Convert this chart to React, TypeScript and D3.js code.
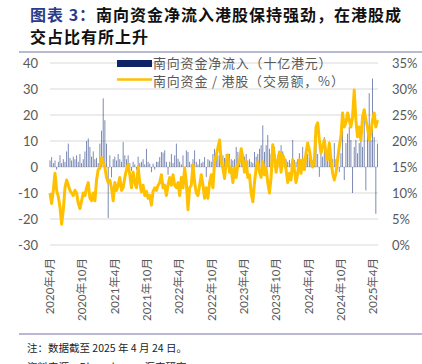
import React from "react";
import * as d3 from "d3";

// Sampled readings, evenly spaced from 2020-04-01 to 2025-04-24
const southboundShare: number[] = [
  10, 8, 10.5, 13.8, 10.5, 9.3, 7.3, 4, 6.8, 11,
  12.5, 11.5, 10.5, 10, 9.5, 10.5, 10, 8, 7, 8.5,
  10, 9.5, 11, 12, 9, 8.5, 10, 8.5, 12.5, 14.5,
  14.8, 16.8, 15.8, 15, 13, 12, 12.5, 11, 8.5, 12,
  10.5, 11.5, 13, 10.5, 11, 13, 14.5, 15.5, 13.5, 11,
  14, 12, 11, 15, 12, 10.2, 11.5, 9.5, 10.3, 9,
  9.5, 7.7, 10.3, 11, 10.5, 11.5, 12, 13.5, 11, 11.5,
  9.5, 11.5, 13, 11.5, 13.5, 11.5, 11, 12, 9.5, 13,
  11, 14.8, 12, 6.8, 11, 11.5, 15.5, 12, 10, 9.5,
  11.5, 13.5, 11.5, 9, 11, 9, 12, 13.5, 11, 16,
  17.3, 18.7, 20.2, 16, 14.8, 12.8, 16, 17.3, 14, 14.8,
  12, 14.8, 13, 15.5, 16, 18.5, 16.8, 14, 16, 13,
  13.5, 10, 8.3, 12, 14.8, 16, 14, 13, 16, 13.5,
  14.8, 12, 10, 13, 19.3, 17.3, 14, 16, 17.9, 14,
  17.3, 16.4, 14.5, 12, 13.8, 12.5, 16.4, 14.5, 12, 13.8,
  16.4, 13.8, 16.4, 14.5, 17.7, 19.6, 18.3, 16.4, 15, 15.8,
  22.7, 23.5, 20.2, 17.7, 18.9, 20.2, 17.7, 16.4, 19.6, 16.4,
  13.8, 12.5, 13.8, 16.4, 18.9, 20.8, 25.4, 22.7, 23.5, 25.4,
  24, 22.7, 24.6, 29.8, 24, 20.8, 22.7, 20.2, 24.6, 26,
  24, 22.7, 20.2, 21.5, 24, 25.4, 22.7, 24,
];

const southboundNetInflow: number[] = [
  2.5, 3.8, 1.5, 2.5, -1, 2, 4.5, 1.5, 3, 2,
  6, 9, 3.5, 2.5, 4, 3, 4.5, 2, 5, 1.5,
  3, 6, 10, 11, 7.7, 4, 6, 3, 3.5, 1.5,
  9, 14, 26.4, 18, 9, -19.6, 4.5, -4, 3, 4,
  2.5, 5, 3, 2, 9.6, 4.5, 3, 4.5, 1.5, -1.5,
  2, 1, -1, 4, 1.5, 2, 3, 1, 7, 2,
  1.3, -2, 1.3, -1, 2, 2, 3.8, 5.8, 5.5, 6.4,
  2, -3, 2, 5, 1.5, 4.5, 9, 3.2, 2, 1,
  4.5, -2.6, 6.4, 5.8, 2, 1, 3, 6.4, 2, 1,
  3, 1.5, 2, 3.8, -3.8, 3, 2.5, 2, 5, 7,
  5, 4.5, 4.5, 3, 4.5, 3.5, 5, 4, 5, 3,
  2.5, 3, 7.7, 5.8, 3, 7, 5, 4, 5, 2.5,
  3, 2, 1.5, 5.8, 4, 5, 7, 8.4, 16, 5.8,
  8.4, 12.3, 7, 5, 3, 7.7, 3, 4.5, 3, 8.4,
  6, 2.7, 3, 2, 2.7, 1.5, 10.4, 2.7, 2, 3,
  5.3, 3, 7.7, 4, 4, 5, 5, 4, 2.5, 3,
  10.4, 5, -3.8, 6, 4, 11.5, 5, 5, 9.2, 4,
  3, 9.2, 3, 2.7, -2, 5.3, 14.2, -5, 9.2, 12.8,
  15.4, 10.4, -10, 7.7, 10.4, 5.3, 9.2, 11.5, 7.7, 22,
  -9, 15.4, 28.4, 10.4, 34, 11.5, -18, 9,
];

const leftTicks: number[] = [40, 30, 20, 10, 0, -10, -20, -30];
const rightTicks: number[] = [35, 30, 25, 20, 15, 10, 5, 0];
const xTickDates: string[] = [
  "2020-04-01", "2020-10-01", "2021-04-01", "2021-10-01", "2022-04-01", "2022-10-01",
  "2023-04-01", "2023-10-01", "2024-04-01", "2024-10-01", "2025-04-01",
];
const xTickLabels: string[] = [
  "2020年4月", "2020年10月", "2021年4月", "2021年10月", "2022年4月", "2022年10月",
  "2023年4月", "2023年10月", "2024年4月", "2024年10月", "2025年4月",
];
const legendLabels: string[] = ["南向资金净流入（十亿港元）", "南向资金 / 港股（交易额，%）"];

const START = new Date(2020, 3, 1);
const END = new Date(2025, 3, 24);

export default function App() {
  const W = 422, H = 364;
  const x = d3.scaleTime().domain([START, END]).range([50, 377.5]);
  const yL = d3.scaleLinear().domain([-30, 40]).range([245, 63]);
  const yR = d3.scaleLinear().domain([0, 35]).range([245, 63]);
  const n = southboundShare.length;
  const span = +END - +START;
  const dates = southboundShare.map((_, i) => new Date(+START + (i * span) / (n - 1)));
  const line = d3
    .line<number>()
    .x((_, i) => x(dates[i]))
    .y((d) => yR(d));
  const parse = d3.timeParse("%Y-%m-%d");
  const gray = "#595959";
  const numFont = "Lato, 'Noto Sans CJK SC', sans-serif";
  const cjk = "'Noto Sans CJK SC', sans-serif";

  return (
    <svg
      width={W}
      height={H}
      style={{ position: "absolute", left: 0, top: 0, background: "#fff" }}
    >
      {/* Title */}
      <text x={30} y={21} fontFamily={cjk} fontSize={16} fontWeight={700} letterSpacing={1}>
        <tspan fill="#283c8c">图表 3：</tspan>
        <tspan fill="#111">南向资金净流入港股保持强劲，在港股成</tspan>
      </text>
      <text x={30} y={43} fontFamily={cjk} fontSize={16} fontWeight={700} letterSpacing={1} fill="#111">
        交占比有所上升
      </text>
      <line x1={19} x2={422} y1={52} y2={52} stroke="#7474a8" strokeWidth={1.2} />

      {/* Gridlines */}
      {leftTicks.map((t) => (
        <line key={t} x1={50} x2={378} y1={yL(t)} y2={yL(t)} stroke="#d9d9d9" strokeWidth={1} />
      ))}

      {/* Left axis labels */}
      {leftTicks.map((t) => (
        <text key={t} x={38} y={yL(t)} dy="0.35em" textAnchor="end" fontFamily={numFont} fontSize={13} fill={gray}>
          {t}
        </text>
      ))}
      {/* Right axis labels */}
      {rightTicks.map((t) => (
        <text key={t} x={392} y={yR(t)} dy="0.35em" textAnchor="start" fontFamily={numFont} fontSize={13} fill={gray}>
          {t}%
        </text>
      ))}

      {/* Bars */}
      <g fill="#17307a" fillOpacity={0.62}>
        {southboundNetInflow.map((v, i) => (
          <rect
            key={i}
            x={x(dates[i]) - 0.45}
            width={0.9}
            y={Math.min(yL(v), yL(0))}
            height={Math.abs(yL(v) - yL(0))}
          />
        ))}
      </g>

      {/* Share line */}
      <path d={line(southboundShare) || ""} fill="none" stroke="#ffc000" strokeWidth={3} strokeLinejoin="round" />

      {/* Legend */}
      <rect x={117} y={60} width={35} height={7} fill="#0f2568" />
      <text x={153} y={63.5} dy="0.35em" fontFamily={cjk} fontSize={13} letterSpacing={0.8} fill={gray}>
        {legendLabels[0]}
      </text>
      <line x1={117} x2={152} y1={79.5} y2={79.5} stroke="#ffc000" strokeWidth={2.6} />
      <text x={153} y={81} dy="0.35em" fontFamily={cjk} fontSize={13} letterSpacing={0.8} fill={gray}>
        {legendLabels[1]}
      </text>

      {/* X axis labels */}
      {xTickDates.map((d, i) => {
        const px = x(parse(d) as Date);
        return (
          <text
            key={d}
            transform={`translate(${px},258) rotate(-90)`}
            dy="0.35em"
            textAnchor="end"
            fontFamily={numFont}
            fontSize={11.5}
            fill={gray}
          >
            {xTickLabels[i]}
          </text>
        );
      })}

      {/* Footer */}
      <line x1={19} x2={422} y1={334} y2={334} stroke="#7474a8" strokeWidth={1.2} />
      <text x={27} y={352} fontFamily={cjk} fontSize={10.5} fill="#222">
        注：数据截至 2025 年 4 月 24 日。
      </text>
      <text x={27} y={371} fontFamily={cjk} fontSize={10.5} fill="#222">
        资料来源：Bloomberg，汇丰研究
      </text>
    </svg>
  );
}
